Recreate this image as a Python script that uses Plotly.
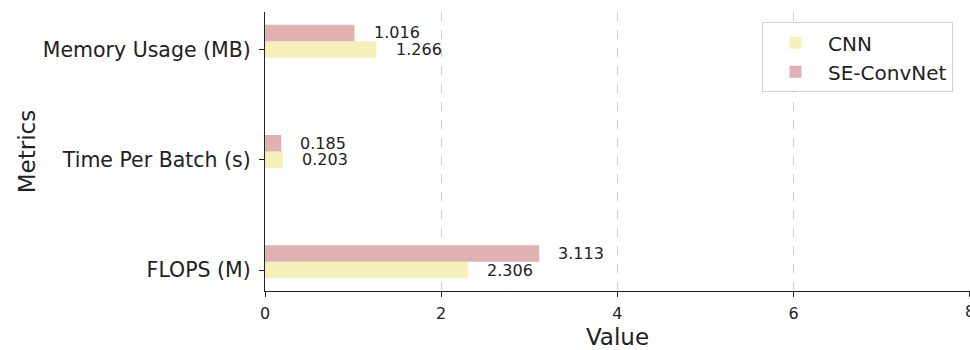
import plotly.graph_objects as go

categories = ["FLOPS (M)", "Time Per Batch (s)", "Memory Usage (MB)"]
cnn_values = [2.306, 0.203, 1.266]
se_values = [3.113, 0.185, 1.016]
x_ticks = [0, 2, 4, 6, 8]

BAR_H = 0.15
pos = list(range(len(categories)))
cnn_y = [p for p in pos]
se_y = [p + BAR_H for p in pos]

cnn_color = "rgb(246,241,187)"
se_color = "rgb(224,177,177)"
font = "DejaVu Sans"

fig = go.Figure()
fig.add_trace(go.Bar(y=cnn_y, x=cnn_values, orientation="h", width=BAR_H,
                     marker=dict(color=cnn_color, line=dict(width=0)), name="CNN"))
fig.add_trace(go.Bar(y=se_y, x=se_values, orientation="h", width=BAR_H,
                     marker=dict(color=se_color, line=dict(width=0)), name="SE-ConvNet"))

for ys, vals in ((cnn_y, cnn_values), (se_y, se_values)):
    for y, v in zip(ys, vals):
        fig.add_annotation(x=v, y=y, text=f"{v:.3f}", showarrow=False,
                           xanchor="left", yanchor="middle", xshift=17,
                           font=dict(family=font, size=16, color="#222"))

# the last x tick label sits on the page edge and is half clipped in the original
fig.add_annotation(x=x_ticks[-1], xref="x", y=0, yref="paper", text=str(x_ticks[-1]),
                   showarrow=False, xanchor="center", yanchor="top", yshift=-9,
                   font=dict(family=font, size=16, color="#222"))

fig.update_layout(
    width=970, height=350,
    margin=dict(l=265, r=0, t=12, b=59),
    plot_bgcolor="white", paper_bgcolor="white",
    barmode="overlay",
    font=dict(family=font, color="#222"),
    legend=dict(x=0.705, y=0.963, xanchor="left", yanchor="top",
                bordercolor="#d0d0d0", borderwidth=1, bgcolor="white",
                itemwidth=55,
                font=dict(family=font, size=20), traceorder="normal"),
    xaxis=dict(range=[0, 8.003], tickvals=x_ticks, ticks="outside", ticklen=5,
               tickcolor="#222", showline=True, linecolor="#222", linewidth=1.2,
               showgrid=True, gridcolor="#cfcfcf", griddash="dash", gridwidth=1,
               zeroline=False, tickfont=dict(size=16), automargin=False,
               ticklabelstandoff=3,
               title=dict(text="Value", font=dict(size=23), standoff=8)),
    yaxis=dict(range=[-0.19, 2.34], tickvals=pos, ticktext=categories,
               ticks="outside", ticklen=5, tickcolor="#222", showline=True,
               linecolor="#222", linewidth=1.2, showgrid=False, zeroline=False,
               tickfont=dict(size=20.5), automargin=False, ticklabelstandoff=4,
               title=dict(text="Metrics", font=dict(size=23), standoff=0)),
)

fig.write_html("out.html")
